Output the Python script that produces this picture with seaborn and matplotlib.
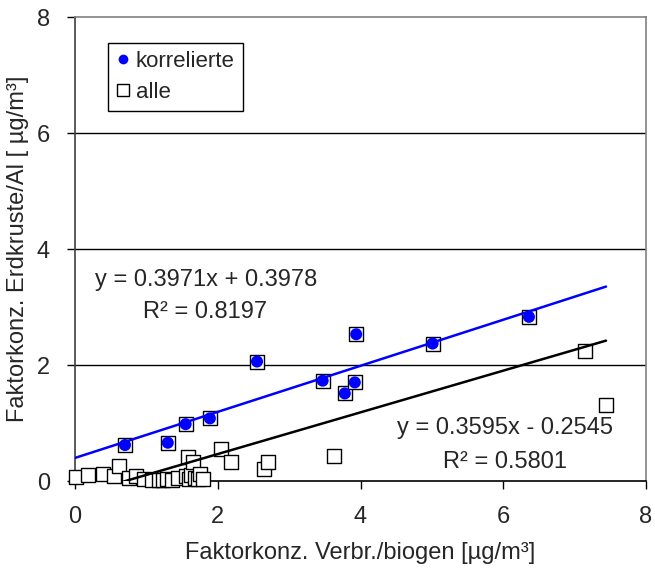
import numpy as np
import pandas as pd
import seaborn as sns
import matplotlib
matplotlib.use("Agg")
import matplotlib.pyplot as plt
from matplotlib.lines import Line2D

# ---- data ----
korr_x = [0.70, 1.30, 1.55, 1.89, 2.55, 3.47, 3.78, 3.92, 3.94, 5.01, 6.36]
korr_y = [0.62, 0.66, 0.98, 1.08, 2.06, 1.73, 1.51, 1.70, 2.53, 2.37, 2.83]

rest_x = [0.02, 0.18, 0.39, 0.55, 0.62, 0.75, 0.85, 0.97, 1.08, 1.17, 1.23, 1.29,
          1.36, 1.45, 1.55, 1.58, 1.60, 1.63, 1.65, 1.68, 1.72, 1.75, 1.80, 2.05,
          2.19, 2.65, 2.71, 3.63, 7.15, 7.44]
rest_y = [0.07, 0.10, 0.12, 0.09, 0.26, 0.05, 0.09, 0.03, 0.02, 0.01, 0.02, 0.03,
          0.02, 0.05, 0.08, 0.41, 0.03, 0.10, 0.32, 0.06, 0.04, 0.12, 0.03, 0.55,
          0.32, 0.20, 0.32, 0.43, 2.25, 1.31]

alle_x = korr_x + rest_x
alle_y = korr_y + rest_y

# trend lines (coefficients as printed on the chart)
korr_slope, korr_icpt = 0.3971, 0.3978
alle_slope, alle_icpt = 0.3595, -0.2545
korr_r2, alle_r2 = 0.8197, 0.5801
line_x = [0.0, 7.44]

x_ticks = [0, 2, 4, 6, 8]
y_ticks = [0, 2, 4, 6, 8]
x_label = "Faktorkonz. Verbr./biogen [µg/m³]"
y_label = "Faktorkonz. Erdkruste/Al [ µg/m³]"

# ---- styling ----
sns.set_style("white")
plt.rcParams["font.family"] = ["Liberation Sans", "DejaVu Sans"]
plt.rcParams["font.size"] = 17

fig = plt.figure(figsize=(6.55, 5.74), dpi=100)
ax = fig.add_axes([75 / 655, 1 - 481 / 574, (646 - 75) / 655, (481 - 17) / 574])

df_alle = pd.DataFrame({"x": alle_x, "y": alle_y})
df_korr = pd.DataFrame({"x": korr_x, "y": korr_y})

sns.scatterplot(data=df_alle, x="x", y="y", ax=ax, marker="s", s=100,
                facecolor="white", edgecolor="black", linewidth=1.0,
                zorder=3, legend=False, clip_on=False)

lx = np.array(line_x)
df_l1 = pd.DataFrame({"x": lx, "y": korr_slope * lx + korr_icpt})
df_l2 = pd.DataFrame({"x": lx, "y": alle_slope * lx + alle_icpt})
sns.lineplot(data=df_l1, x="x", y="y", ax=ax, color="#0000FF", linewidth=1.8, zorder=4)
sns.lineplot(data=df_l2, x="x", y="y", ax=ax, color="black", linewidth=1.8, zorder=4)

sns.scatterplot(data=df_korr, x="x", y="y", ax=ax, marker="o", s=75,
                color="#0000FF", edgecolor="none", zorder=5, legend=False,
                clip_on=False)

ax.set_xlim(0, 8)
ax.set_ylim(0, 8)
ax.set_xticks(x_ticks)
ax.set_yticks(y_ticks)
ax.set_xticklabels([str(t) for t in x_ticks], fontsize=17)
ax.set_yticklabels([str(t) for t in y_ticks], fontsize=17)
ax.set_xlabel(x_label, fontsize=17, labelpad=10)
ax.set_ylabel(y_label, fontsize=17, va="center")
ax.yaxis.set_label_coords(-0.1, 0.5)

for yv in y_ticks[1:-1]:
    ax.axhline(yv, color="black", linewidth=1.0, zorder=1)

for side in ["top", "right"]:
    ax.spines[side].set_visible(True)
    ax.spines[side].set_color("#808080")
    ax.spines[side].set_linewidth(1.2)
ax.spines["left"].set_color("#404040")
ax.spines["left"].set_linewidth(1.2)
ax.spines["bottom"].set_color("black")
ax.spines["bottom"].set_linewidth(1.2)
ax.tick_params(axis="both", direction="out", length=6, width=1.0, color="black",
               bottom=True, left=True)
ax.tick_params(axis="y", pad=12)
ax.tick_params(axis="x", pad=12)

ax.text(0.28, 3.47, f"y = {korr_slope:.4f}x + {korr_icpt:.4f}", fontsize=17,
        ha="left", va="center", zorder=6)
ax.text(0.95, 2.91, f"R² = {korr_r2:.4f}", fontsize=17, ha="left", va="center", zorder=6)
ax.text(4.51, 0.91, f"y = {alle_slope:.4f}x - {abs(alle_icpt):.4f}", fontsize=17,
        ha="left", va="center", zorder=6)
ax.text(5.15, 0.33, f"R² = {alle_r2:.4f}", fontsize=17, ha="left", va="center", zorder=6)

handles = [
    Line2D([], [], marker="o", linestyle="none", markersize=7,
           markerfacecolor="#0000FF", markeredgecolor="none", label="korrelierte"),
    Line2D([], [], marker="s", linestyle="none", markersize=8,
           markerfacecolor="white", markeredgecolor="black", markeredgewidth=1.0,
           label="alle"),
]
leg = ax.legend(handles=handles, loc="upper left", bbox_to_anchor=(0.058, 0.944),
                borderaxespad=0, frameon=True, fancybox=False, fontsize=16,
                handlelength=0.6, handletextpad=0.3, labelspacing=0.45,
                borderpad=0.35, framealpha=1)
leg.get_frame().set_edgecolor("black")
leg.get_frame().set_linewidth(1.0)

fig.savefig("out.png", dpi=100)
